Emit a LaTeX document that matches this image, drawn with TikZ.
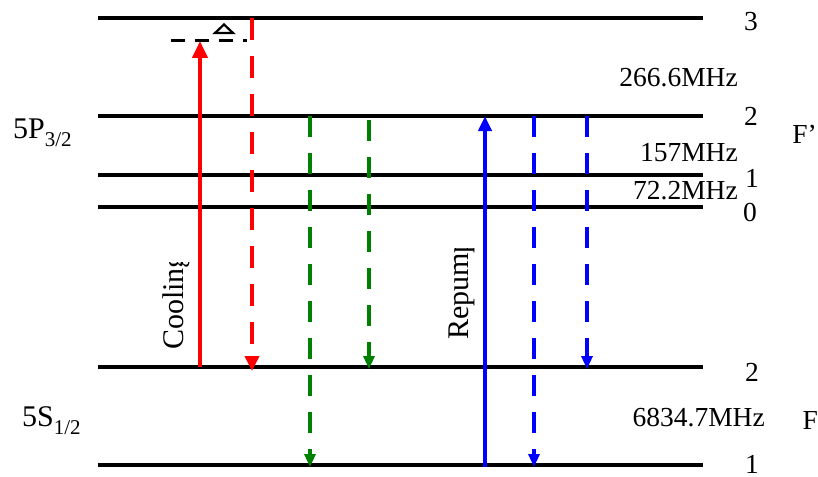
\documentclass[tikz,border=0pt]{standalone}
\usepackage{fontspec}
\setmainfont{Liberation Serif}
\usetikzlibrary{arrows.meta}
\definecolor{cred}{RGB}{255,0,0}
\definecolor{cgreen}{RGB}{0,128,0}
\definecolor{cblue}{RGB}{0,0,255}
\newcommand{\lsub}[1]{\raisebox{-0.28em}{\fontsize{21}{24}\selectfont #1}}
\tikzset{
  level/.style={line width=3.5pt, black},
  lbl/.style={inner sep=0pt, font=\fontsize{27.5}{32}\selectfont},
  state/.style={inner sep=0pt, font=\fontsize{30}{34}\selectfont},
  solidarrow/.style={line width=4pt, -{Triangle[length=17pt,width=15pt]}},
  dasharrow/.style={line width=4pt, dash pattern=on 22pt off 16pt, -{Triangle[length=15pt,width=14pt]}},
  dasharrowsm/.style={line width=4pt, dash pattern=on 21pt off 16pt, -{Triangle[length=13pt,width=11pt]}},
}
\begin{document}
\begin{tikzpicture}[x=1pt,y=-1pt]
\useasboundingbox (0,0) rectangle (818,476);

% hyperfine levels
\coordinate (e3a) at (98,18);  \coordinate (e3b) at (703,18);
\coordinate (e2a) at (98,116); \coordinate (e2b) at (703,116);
\coordinate (e1a) at (98,175); \coordinate (e1b) at (703,175);
\coordinate (e0a) at (98,207); \coordinate (e0b) at (703,207);
\coordinate (g2a) at (98,367); \coordinate (g2b) at (703,367);
\coordinate (g1a) at (98,465); \coordinate (g1b) at (703,465);
\foreach \l in {e3,e2,e1,e0,g2,g1} \draw[level] (\l a) -- (\l b);

% detuned virtual level below F'=3
\coordinate (da) at (171,41); \coordinate (db) at (247,41);
\draw[line width=3pt, dash pattern=on 14pt off 10pt] (da) -- (db);
\draw[line width=2.2pt, line join=miter] (215,33) -- (224,24.5) -- (233,33) -- cycle;

% cooling transitions
\coordinate (c0) at (200,367); \coordinate (c1) at (200,41);
\draw[cred, solidarrow] (c0) -- (c1);
\coordinate (r0) at (252,18); \coordinate (r1) at (252,371);
\draw[cred, dasharrow] (r0) -- (r1);

% decay channels from F'=2
\coordinate (ga0) at (310,116); \coordinate (ga1) at (310,467);
\coordinate (gb0) at (369,120); \coordinate (gb1) at (369,369);
\draw[cgreen, dasharrowsm] (ga0) -- (ga1);
\draw[cgreen, dasharrowsm] (gb0) -- (gb1);

% repump transitions
\coordinate (p0) at (485,467); \coordinate (p1) at (485,116);
\draw[cblue, solidarrow, -{Triangle[length=15pt,width=13pt]}] (p0) -- (p1);
\coordinate (ba0) at (534,116); \coordinate (ba1) at (534,467);
\coordinate (bb0) at (587,116); \coordinate (bb1) at (587,369);
\draw[cblue, dasharrowsm] (ba0) -- (ba1);
\draw[cblue, dasharrowsm] (bb0) -- (bb1);

% rotated transition labels
\begin{scope}
  \clip (100,262) rectangle (230,476);
  \node[lbl, font=\fontsize{30}{34}\selectfont, rotate=90, anchor=base west] (cool) at (183,350) {Cooling};
\end{scope}
\begin{scope}
  \clip (400,248) rectangle (480,476);
  \node[lbl, font=\fontsize{30}{34}\selectfont, rotate=90, anchor=base west] (rep) at (468,340) {Repump};
\end{scope}

% state labels
\node[state, anchor=base west] (p32) at (13,138) {5P\lsub{3/2}};
\node[state, anchor=base west] (s12) at (22,426) {5S\lsub{1/2}};

% splittings
\node[lbl, anchor=base east] (f266) at (738,87) {266.6MHz};
\node[lbl, anchor=base east] (f157) at (738,161) {157MHz};
\node[lbl, anchor=base east] (f72) at (738,199) {72.2MHz};
\node[lbl, anchor=base east] (f6834) at (765,426) {6834.7MHz};

% quantum numbers
\node[lbl] (n3) at (751,22) {3};
\node[lbl] (n2e) at (751,116) {2};
\node[lbl] (n1e) at (752,178) {1};
\node[lbl] (n0e) at (750,212) {0};
\node[lbl] (n2g) at (752,372) {2};
\node[lbl, anchor=south] (n1g) at (752,474) {1};
\node[lbl, anchor=east] (fp) at (817,134) {F'};
\node[lbl, anchor=east] (fg) at (818,420) {F};
\end{tikzpicture}
\end{document}
